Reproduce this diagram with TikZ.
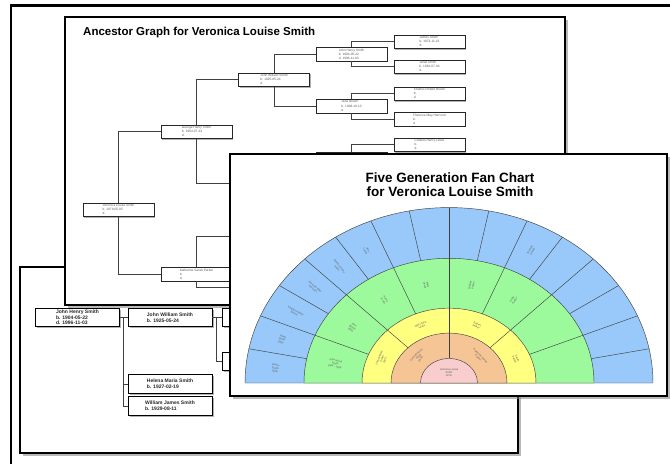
\documentclass[tikz,border=0pt]{standalone}
\usepackage{fontspec}
\setmainfont{Liberation Sans}
\usetikzlibrary{positioning,shadows}
\definecolor{fanpink}{HTML}{F9CDCD}
\definecolor{fanorange}{HTML}{F6C596}
\definecolor{fanyellow}{HTML}{FFFF80}
\definecolor{fangreen}{HTML}{9CFA9C}
\definecolor{fanblue}{HTML}{98C9FA}
\definecolor{boxtext}{HTML}{5A5A5A}
\tikzset{
  page/.style={fill=white, draw=black, line width=1.6pt,
    drop shadow={shadow xshift=3pt, shadow yshift=-3pt, opacity=.55}},
  ancbox/.style={rectangle, draw=black!85, line width=0.5pt, fill=white,
    minimum width=71pt, minimum height=13.5pt, inner sep=0pt, align=left,
    font=\fontsize{3.2}{4.1}\selectfont, text=boxtext,
    drop shadow={shadow xshift=1.3pt, shadow yshift=-1.3pt, fill=black!30, opacity=1}},
  descbox/.style={rectangle, draw=black, line width=0.8pt, fill=white,
    minimum width=84pt, minimum height=18.5pt, inner sep=0pt, align=left,
    font=\bfseries\fontsize{5}{5.6}\selectfont, text=black!85,
    drop shadow={shadow xshift=1.5pt, shadow yshift=-1.5pt, fill=black!30, opacity=1}},
  link/.style={draw=black!75, line width=0.5pt},
  seg/.style={draw=black!75, line width=0.45pt},
  fantext/.style={font=\fontsize{2.6}{3.1}\selectfont, text=black!65, align=center, inner sep=0pt},
  sheettitle/.style={font=\bfseries\fontsize{11.5}{13}\selectfont, anchor=west, inner sep=0pt},
  fantitle/.style={font=\bfseries\fontsize{13.5}{14}\selectfont, align=center}
}
\newcommand{\fanring}[2]{% radius, colour
  \draw[seg, fill=#2] (0:#1) arc[start angle=0, end angle=180, radius=#1] -- cycle;}
\newcommand{\fanspokes}[4]{% count, step, inner, outer
  \foreach \k in {1,...,#1} \draw[seg] (\k*#2:#3) -- (\k*#2:#4);}

\begin{document}
\begin{tikzpicture}[x=1pt, y=-1pt]
\useasboundingbox (0,0) rectangle (670,464);
% frame
\draw[line width=2.2pt] (11,464) -- (11,5.5) -- (670,5.5);

% descendant chart (bottom sheet)
\draw[page] (20,267) rectangle (518,453);
\node[descbox] (djhs) at (77.5,317.5) {John Henry Smith\\b. 1904-05-22\\d. 1996-11-03};
\node[descbox] (djws) at (170,317.5) {John William Smith\\b. 1925-05-24};
\node[descbox] (dhms) at (170,384) {Helena Maria Smith\\b. 1927-02-19};
\node[descbox] (dwjs) at (170,406) {William James Smith\\b. 1929-08-11};
\node[descbox] (dch1) at (264,317.5) {};
\node[descbox] (dch2) at (264,361.5) {};
\coordinate (dfork) at (123,317.5);
\coordinate (dfork2) at (216,317.5);
\draw[link] (djhs.east) -- (djws.west);
\draw[link] (dfork) |- (dhms.west);
\draw[link] (dfork) |- (dwjs.west);
\draw[link] (djws.east) -- (dch1.west);
\draw[link] (dfork2) |- (dch2.west);

% ancestor graph (middle sheet)
\draw[page] (65,17) rectangle (565,305);
\node[sheettitle] (atitle) at (83,33) {Ancestor Graph for Veronica Louise Smith};
\node[ancbox] (ver) at (118.5,209.5) {Veronica Louise Smith\\b. 1979-05-05\\d.};
\node[ancbox] (geo) at (196.5,131.5) {George Henry Smith\\b. 1954-07-24\\d.};
\node[ancbox] (kat) at (196.5,274) {Katherine Sarah Parker\\b.\\d.};
\node[ancbox] (jws) at (274,79.5) {John William Smith\\b. 1925-05-24\\d.};
\node[ancbox] (jhs) at (351.5,54) {John Henry Smith\\b. 1904-05-22\\d. 1996-11-03};
\node[ancbox] (jbr) at (351.5,106) {Jane Brown\\b. 1906-10-13\\d.};
\node[ancbox] (hid) at (351.5,159) {};
\node[ancbox] (jas) at (429.5,41.5) {James Smith\\b. 1873-11-22\\d.};
\node[ancbox] (jan) at (429.5,66.5) {Janet Smith\\b. 1881-07-04\\d.};
\node[ancbox] (crb) at (429.5,93.5) {Charles Robert Brown\\b.\\d.};
\node[ancbox] (fmh) at (429.5,119) {Florence May Harcourt\\b.\\d.};
\node[ancbox] (chl) at (429.5,144.5) {Charles Henry Lewis\\b.\\d.};
\coordinate (gmo) at (245,183);
\coordinate (kfa) at (245,236);
\coordinate (kmo) at (245,287);
\draw[link] (ver.north) |- (geo.west);
\draw[link] (ver.south) |- (kat.west);
\draw[link] (geo.north) |- (jws.west);
\draw[link] (geo.south) |- (gmo);
\draw[link] (kat.north) |- (kfa);
\draw[link] (kat.south) |- (kmo);
\draw[link] (jws.north) |- (jhs.west);
\draw[link] (jws.south) |- (jbr.west);
\draw[link] (jhs.north) |- (jas.west);
\draw[link] (jhs.south) |- (jan.west);
\draw[link] (jbr.north) |- (crb.west);
\draw[link] (jbr.south) |- (fmh.west);
\draw[link] (hid.north) |- (chl.west);

% fan chart (top sheet)
\draw[page] (230,154) rectangle (667,396);
\node[fantitle] (ftitle) at (450,185) {Five Generation Fan Chart\\for Veronica Louise Smith};
\begin{scope}[shift={(449,383)}, x=1pt, y=0.86pt]
  \fanring{204}{fanblue}
  \fanring{145}{fangreen}
  \fanring{87}{fanyellow}
  \fanring{58}{fanorange}
  \fanring{28.5}{fanpink}
  \fanspokes{15}{11.25}{145}{204}
  \fanspokes{7}{22.5}{87}{145}
  \fanspokes{3}{45}{58}{87}
  \fanspokes{1}{90}{28.5}{58}
  \node[fantext] (p0) at (90:12) {Veronica Louise\\Smith\\1979-};
  \foreach \n/\a/\r/\rot/\t in {
      o1/135/43/45/{George Henry\\Smith\\1954-},
      o2/45/43/-45/{Katherine Sarah\\Parker},
      y1/157.5/72.5/67.5/{John William\\Smith\\1925-},
      y2/112.5/72.5/22.5/{Mary Jane\\Lewis},
      y3/67.5/72.5/-22.5/{Robert\\Parker},
      y4/22.5/72.5/-67.5/{Sarah\\Parker},
      g1/168.75/116/-11.25/{John Henry\\Smith\\1904 - 1996},
      g2/146.25/116/-33.75/{Jane\\Brown\\1906-},
      g3/123.75/116/-56.25/{Henry\\Lewis},
      g4/101.25/116/-78.75/{Mary\\Lewis},
      g5/78.75/116/78.75/{William\\Parker},
      g6/56.25/116/56.25/{Emily\\Parker},
      b1/174.375/174.5/-5.625/{James\\Smith\\1873-},
      b2/163.125/174.5/-16.875/{Janet\\Smith\\1881-},
      b3/151.875/174.5/-28.125/{Charles Robert\\Brown},
      b4/140.625/174.5/-39.375/{Florence May\\Harcourt},
      b5/129.375/174.5/-50.625/{Charles Henry\\Lewis},
      b6/118.125/174.5/-61.875/{Ann\\Lewis},
      b7/61.875/174.5/61.875/{Thomas\\Parker}}
    \node[fantext, rotate=\rot] (\n) at (\a:\r) {\t};
\end{scope}
\end{tikzpicture}
\end{document}
